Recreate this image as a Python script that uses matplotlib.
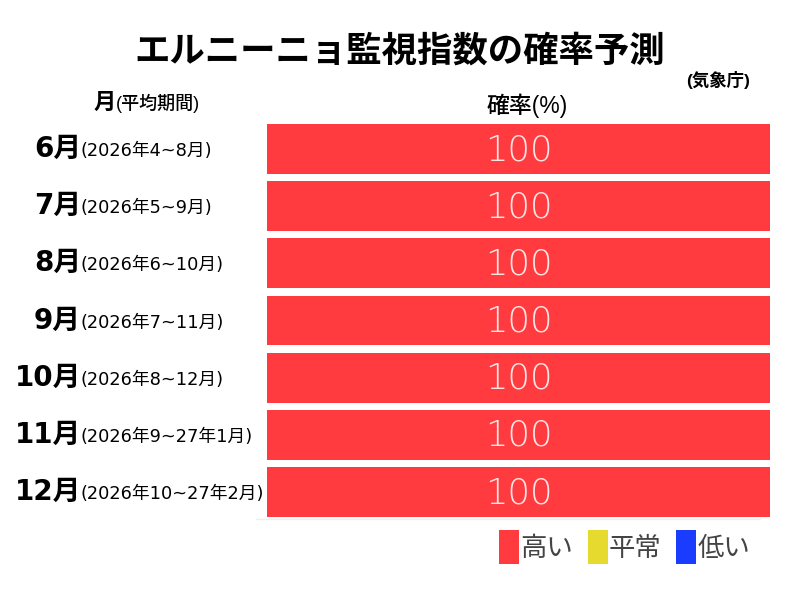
import matplotlib
matplotlib.use("Agg")
import matplotlib.pyplot as plt

plt.rcParams['font.family'] = ['Noto Sans CJK JP', 'DejaVu Sans']
LAT = ['Liberation Sans', 'Noto Sans CJK JP']
DJ = ['DejaVu Sans', 'Noto Sans CJK JP']

months = ["6月", "7月", "8月", "9月", "10月", "11月", "12月"]
periods = ["(2026年4~8月)", "(2026年5~9月)", "(2026年6~10月)", "(2026年7~11月)",
           "(2026年8~12月)", "(2026年9~27年1月)", "(2026年10~27年2月)"]
series_names = ["高い", "平常", "低い"]
high = [100, 100, 100, 100, 100, 100, 100]
normal = [0, 0, 0, 0, 0, 0, 0]
low = [0, 0, 0, 0, 0, 0, 0]
colors = ["#FF3B3F", "#E6DA2E", "#1A3CFF"]

fig = plt.figure(figsize=(8, 6), dpi=100)
ax = fig.add_axes([267/800, 1-517/600, 503/800, 393/600])

ypos = list(range(len(months)))
h = 50/57.2
left = [0]*len(months)
handles = []
for name, vals, c in zip(series_names, [high, normal, low], colors):
    b = ax.barh(ypos, vals, left=left, height=h, color=c, label=name)
    handles.append(b)
    for i, v in enumerate(vals):
        if v > 0:
            ax.text(left[i] + v/2, i + 0.02, str(v), ha='center', va='center',
                    fontsize=25.5, color='#FFE4E4', family=['DejaVu Sans'],
                    fontweight='light')
    left = [l + v for l, v in zip(left, vals)]

ax.set_xlim(0, 100)
ax.set_ylim(len(months) - 1 + h/2, -h/2)
for s in ax.spines.values():
    s.set_visible(False)
ax.set_xticks([])
ax.set_yticks([])
ax.plot([-0.022, 0.98], [-0.005, -0.005], transform=ax.transAxes, color='#EEEEEE',
        lw=1, clip_on=False)

# Row labels
for i, (m, p) in enumerate(zip(months, periods)):
    ax.annotate(m, xy=(0, i), xycoords=('figure fraction', 'data'),
                xytext=(81, 0), textcoords='offset pixels',
                ha='right', va='center', fontsize=20, fontweight='bold', color='black',
                family=DJ)
    ax.annotate(p, xy=(0, i), xycoords=('figure fraction', 'data'),
                xytext=(81, -2), textcoords='offset pixels',
                ha='left', va='center', fontsize=12.8, fontweight='normal', color='black',
                family=DJ)

fig.text(400/800, 1-51/600, "エルニーニョ監視指数の確率予測", ha='center', va='center',
         fontsize=25.5, fontweight='bold')
fig.text(750/800, 1-80/600, "(気象庁)", ha='right', va='center', fontsize=12.5,
         fontweight='bold', family=LAT)
fig.text(116/800, 1-102/600, "月", ha='right', va='center', fontsize=16, fontweight='bold')
fig.text(116/800, 1-103/600, "(平均期間)", ha='left', va='center', fontsize=13,
         fontweight='medium', family=LAT)
fig.text(527/800, 1-106/600, "確率(%)", ha='center', va='center', fontsize=16.5,
         fontweight='medium', family=LAT)

leg = fig.legend(handles=handles, labels=series_names, loc='center right',
                 bbox_to_anchor=(750/800, 1-547/600), ncol=3, frameon=False,
                 fontsize=19, handlelength=0.75, handleheight=1.6, handletextpad=0.05,
                 columnspacing=0.55, borderaxespad=0, borderpad=0)
for t in leg.get_texts():
    t.set_color('#444444')

fig.savefig("out.png", dpi=100)
